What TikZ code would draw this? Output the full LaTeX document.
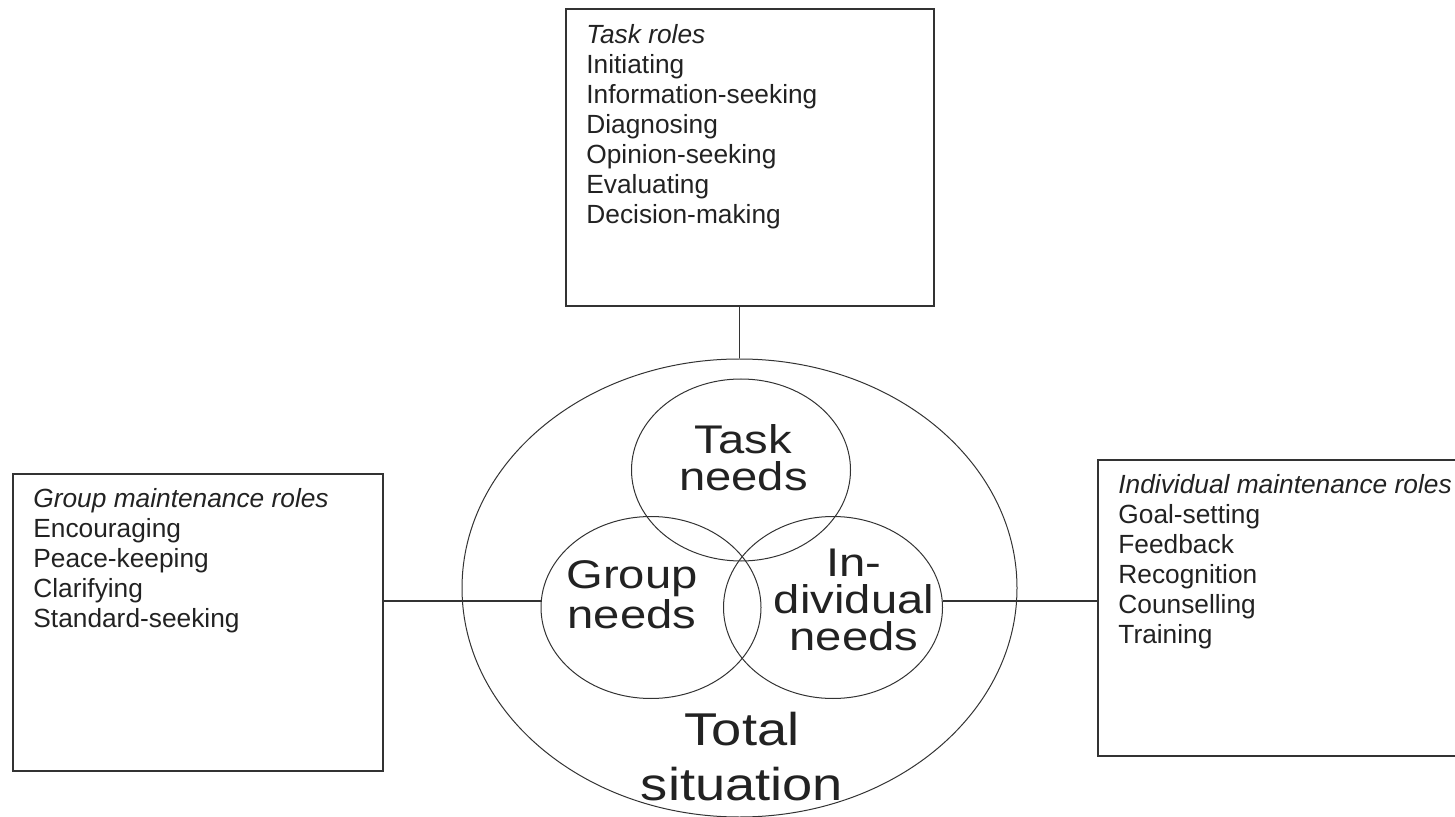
\documentclass[tikz,border=0pt]{standalone}
\usepackage{fontspec}
\setmainfont{Liberation Sans}
\newfontfamily\vennfont[FakeStretch=1.18]{Liberation Sans}
\usetikzlibrary{shapes.geometric}
\definecolor{ink}{HTML}{222222}
\definecolor{linec}{HTML}{333333}
\tikzset{
  rolebox/.style={draw=linec, line width=0.8pt, rectangle, anchor=north west, inner sep=0pt, minimum height=148.5pt},
  roletext/.style={anchor=base west, align=left, inner sep=0pt, text=ink, font=\fontsize{13.15}{15}\selectfont},
  needs/.style={draw=linec, line width=0.5pt, ellipse, inner sep=0pt, minimum width=109.5pt, minimum height=91pt},
  needtext/.style={anchor=base, align=center, inner sep=0pt, text=ink, font=\vennfont\fontsize{20}{18.3}\selectfont},
  conn/.style={draw=linec, line width=0.75pt}
}
\begin{document}
\begin{tikzpicture}[x=0.5pt,y=-0.5pt]
\useasboundingbox (0,0) rectangle (1455,817);
\clip (0,0) rectangle (1455,817);
% boxes
\node[rolebox, minimum width=184pt] (tb) at (565,8) {};
\node[rolebox, minimum width=185pt] (lb) at (12,473) {};
\node[rolebox, minimum width=185pt, minimum height=148pt] (rb) at (1097,459) {};
% role texts (anchored at the baseline of their last line)
\node[roletext] (tbt) at (586,224) {\textit{Task roles}\\Initiating\\Information-seeking\\Diagnosing\\Opinion-seeking\\Evaluating\\Decision-making};
\node[roletext] (lbt) at (33,627) {\textit{Group maintenance roles}\\Encouraging\\Peace-keeping\\Clarifying\\Standard-seeking};
\node[roletext] (rbt) at (1118,643) {\textit{Individual maintenance roles}\\Goal-setting\\Feedback\\Recognition\\Counselling\\Training};
% total situation
\node[needs, minimum width=277.5pt, minimum height=229pt] (total) at (739.5,588) {};
\node[needs] (task) at (741,470) {};
\node[needs, minimum width=110pt] (group) at (651,607.5) {};
\node[needs] (indiv) at (833,607.5) {};
\node[needtext] (taskt) at (743.5,490) {Task\\needs};
\node[needtext] (groupt) at (632,628) {Group\\needs};
\node[needtext] (indivt) at (854,650) {In-\\dividual\\needs};
\node[needtext, font=\vennfont\fontsize{23}{27.5}\selectfont] (totalt) at (742,800) {Total\\situation};
% connectors
\coordinate (ly) at (0,601);
\draw[conn] (total.north |- tb.south) -- (total.north);
\draw[conn] (lb.east |- ly) -- (group.west |- ly);
\draw[conn] (indiv.east |- ly) -- (rb.west |- ly);
\end{tikzpicture}
\end{document}
